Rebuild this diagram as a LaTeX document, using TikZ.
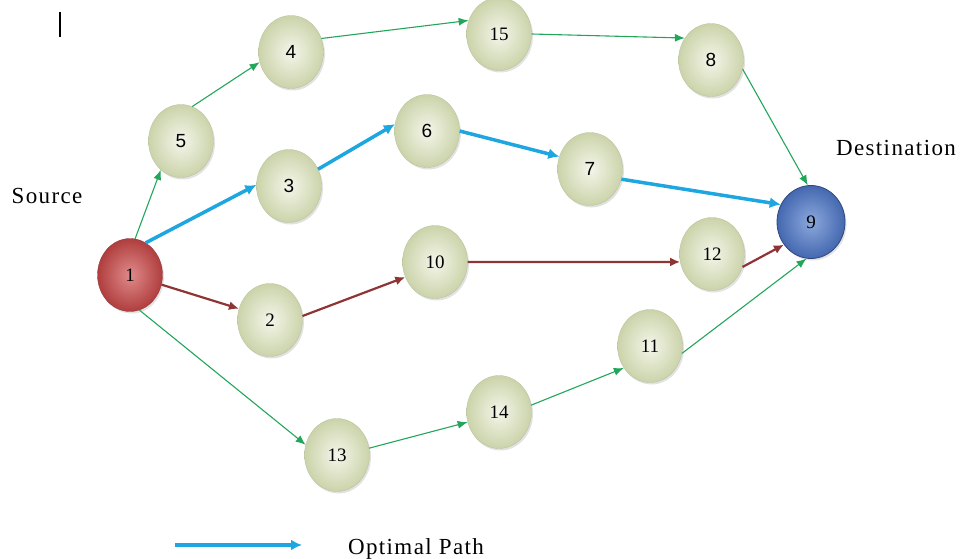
\documentclass[tikz,border=0pt]{standalone}
\usepackage{fontspec}
\setmainfont{Liberation Serif}
\newfontfamily\numsans{Liberation Sans}
\newfontfamily\lblfont[LetterSpace=6]{Liberation Serif}
\usetikzlibrary{arrows.meta,shapes.geometric,shadows}
\definecolor{gin}{HTML}{F4F6EA}
\definecolor{gout}{HTML}{CBD3AA}
\definecolor{rin}{HTML}{E08A8A}
\definecolor{rout}{HTML}{B03E3E}
\definecolor{bin}{HTML}{8CA8DC}
\definecolor{bout}{HTML}{4468B0}
\definecolor{greenline}{HTML}{22A65A}
\definecolor{blueline}{HTML}{1EA6E0}
\definecolor{redline}{HTML}{8E3434}
\tikzset{
  nd/.style={ellipse, minimum width=65pt, minimum height=73pt, inner sep=0pt,
    inner color=gin, outer color=gout, draw=gout!90!black, line width=0.3pt,
    drop shadow={shadow xshift=1.5pt, shadow yshift=-2pt, fill=black!25, opacity=0.45},
    font=\fontsize{19}{19}\selectfont},
  srcnd/.style={nd, inner color=rin, outer color=rout, draw=rout!80!black},
  dstnd/.style={nd, minimum width=68pt, inner color=bin, outer color=bout, draw=bout!70!black, line width=0.8pt},
  gedge/.style={draw=greenline, line width=1.1pt, -{Latex[length=10pt,width=8pt]}},
  bedge/.style={draw=blueline, line width=3.5pt, -{Latex[length=11pt,width=11pt]}},
  redge/.style={draw=redline, line width=2.2pt, -{Latex[length=10pt,width=9pt]}},
  lbl/.style={font=\lblfont\fontsize{23}{23}\selectfont, anchor=center}
}
\begin{document}
\begin{tikzpicture}[x=1pt,y=-1pt]
\useasboundingbox (0,0) rectangle (961,559);
% nodes
\node[srcnd] (n1) at (130,275) {1};
\node[nd] (n2) at (270,320) {2};
\node[nd] (n3) at (289,186) {\numsans 3};
\node[nd] (n4) at (291,52) {\numsans 4};
\node[nd] (n5) at (181,141) {\numsans 5};
\node[nd] (n6) at (427,131) {\numsans 6};
\node[nd] (n7) at (590,169) {\numsans 7};
\node[nd] (n8) at (711,60) {\numsans 8};
\node[dstnd] (n9) at (811,222) {9};
\node[nd] (n10) at (435,262) {10};
\node[nd] (n11) at (650,346) {11};
\node[nd] (n12) at (712,254) {12};
\node[nd] (n13) at (337,455) {13};
\node[nd] (n14) at (499,412) {14};
\node[nd] (n15) at (499,34) {15};
% green edges
\draw[gedge] (n1.82) -- (n5.235);
\draw[gedge] (n5.72) -- (n4.198);
\draw[gedge] (n4.24) -- (n15.156);
\draw[gedge] (n15.0) -- (n8.140);
\draw[gedge] (n8.-16) -- (n9.95);
\draw[gedge] (n1.285) -- (n13.162);
\draw[gedge] (n13.12) -- (n14.198);
\draw[gedge] (n14.12) -- (n11.220);
\draw[gedge] (n11.-13) -- (n9.263);
% optimal path
\draw[bedge] (n1.64) -- (n3.178);
\draw[bedge] (n3.30) -- (n6.168);
\draw[bedge] (n6.0) -- (n7.158);
\draw[bedge] (n7.-18) -- (n9.150);
% red path
\draw[redge] (n1.-17) -- (n2.160);
\draw[redge] (n2.7) -- (n10.207);
\draw[redge] (n10.0) -- (n12.194);
\draw[redge] (n12.-23) -- (n9.220);
% labels
\node[lbl] (src) at (47,196) {Source};
\node[lbl] (dst) at (896,148) {Destination};
\node[lbl] (opt) at (416,549) {Optimal Path};
\coordinate (la) at (175,545);
\coordinate (lb) at (302,545);
\draw[bedge] (la) -- (lb);
\coordinate (ia) at (60,12);
\coordinate (ib) at (60,37);
\draw[line width=2.5pt, black] (ia) -- (ib);
\end{tikzpicture}
\end{document}
